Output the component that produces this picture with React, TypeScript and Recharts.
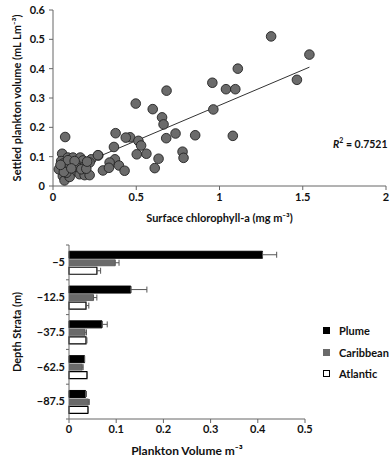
import React from 'react';
import { ScatterChart, Scatter, XAxis, YAxis, BarChart, Bar, ErrorBar, Legend } from 'recharts';

// top panel: surface chlorophyll-a vs settled plankton volume
const chlorophyll = [
  1.31, 1.54, 1.465, 1.11, 0.957, 1.039, 1.095, 0.682, 0.497, 0.599, 0.655, 0.664, 0.963,
  0.376, 0.463, 0.513, 0.529, 0.366, 0.68, 0.736, 0.854, 1.08, 0.503, 0.561, 0.778, 0.784,
  0.634, 0.611, 0.272, 0.372, 0.34, 0.396, 0.43, 0.3, 0.336, 0.437,
  0.073, 0.055, 0.089, 0.12, 0.164, 0.18, 0.23, 0.22, 0.27, 0.049, 0.08, 0.116, 0.15, 0.18,
  0.049, 0.08, 0.12, 0.16, 0.19, 0.22, 0.059, 0.069, 0.1, 0.035, 0.063, 0.1, 0.14, 0.17,
  0.2, 0.08, 0.065, 0.09, 0.13, 0.205, 0.11, 0.045,
];
const settledVolume = [
  0.51, 0.448, 0.362, 0.4, 0.352, 0.33, 0.33, 0.325, 0.281, 0.262, 0.234, 0.21, 0.261,
  0.18, 0.166, 0.154, 0.138, 0.133, 0.163, 0.179, 0.173, 0.171, 0.108, 0.11, 0.117, 0.096,
  0.093, 0.061, 0.104, 0.091, 0.08, 0.07, 0.052, 0.053, 0.062, 0.165,
  0.167, 0.11, 0.097, 0.097, 0.097, 0.087, 0.091, 0.08, 0.105, 0.085, 0.074, 0.074, 0.068, 0.063,
  0.063, 0.058, 0.051, 0.04, 0.037, 0.037, 0.034, 0.019, 0.031, 0.057, 0.077, 0.07, 0.065, 0.057,
  0.059, 0.045, 0.048, 0.088, 0.085, 0.083, 0.06, 0.072,
];
const chlTicks = [0, 0.5, 1, 1.5, 2];
const volumeTicks = [0, 0.1, 0.2, 0.3, 0.4, 0.5, 0.6];
const TREND_SLOPE = 0.241;
const TREND_INTERCEPT = 0.034;
const R_SQUARED = '0.7521';

// bottom panel: plankton volume by depth stratum
const depthStrata = ['\u22125', '\u221212.5', '\u221237.5', '\u221262.5', '\u221287.5'];
const plume = [0.41, 0.131, 0.07, 0.033, 0.035];
const plumeErr = [0.03, 0.034, 0.011, 0, 0.002];
const caribbean = [0.098, 0.052, 0.034, 0.028, 0.041];
const caribbeanErr = [0.008, 0.007, 0.003, 0.002, 0.002];
const atlantic = [0.059, 0.036, 0.036, 0.038, 0.04];
const atlanticErr = [0.008, 0.006, 0.002, 0.001, 0.001];
const planktonTicks = [0, 0.1, 0.2, 0.3, 0.4, 0.5];

const FONT = 'Lato, "Open Sans", sans-serif';
const AXIS = '#666';
const tickStyle = { fontSize: 11, fontWeight: 700, fill: '#111', fontFamily: FONT };
const titleStyle = { fontSize: 11, fontWeight: 700, fill: '#111', fontFamily: FONT };

const points = chlorophyll.map((x, i) => ({ x, y: settledVolume[i] }));
const trendX = [Math.min(...chlorophyll), Math.max(...chlorophyll)];
const trend = trendX.map((x) => ({ x, y: TREND_INTERCEPT + TREND_SLOPE * x }));

const strataData = depthStrata.map((depth, i) => ({
  depth,
  plume: plume[i],
  plumeErr: [0, plumeErr[i]],
  caribbean: caribbean[i],
  caribbeanErr: [0, caribbeanErr[i]],
  atlantic: atlantic[i],
  atlanticErr: [0, atlanticErr[i]],
}));

const legendItems = [
  { name: 'Plume', fill: '#000', stroke: '#000' },
  { name: 'Caribbean', fill: '#6a6a6a', stroke: '#6a6a6a' },
  { name: 'Atlantic', fill: '#fff', stroke: '#000' },
];

const BAR_AXIS_X = 69;

const DepthTick = (props: any) => {
  const { x, y, payload, index, visibleTicksCount } = props;
  const half = payload?.offset || 17.4;
  return (
    <g>
      <text x={x} y={y} dy="0.35em" textAnchor="end" style={tickStyle}>{payload.value}</text>
      <line x1={BAR_AXIS_X - 3} x2={BAR_AXIS_X} y1={y - half} y2={y - half} stroke={AXIS} />
      {index === visibleTicksCount - 1 && (
        <line x1={BAR_AXIS_X - 3} x2={BAR_AXIS_X} y1={y + half} y2={y + half} stroke={AXIS} />
      )}
    </g>
  );
};

const StrataLegend = () => (
  <div style={{ fontFamily: FONT, fontWeight: 700, fontSize: 11, color: '#111', whiteSpace: 'nowrap' }}>
    {legendItems.map((it) => (
      <div key={it.name} style={{ display: 'flex', alignItems: 'center', height: 21.6 }}>
        <span style={{ width: 5, height: 5, background: it.fill, border: `1px solid ${it.stroke}`, marginRight: 9 }} />
        {it.name}
      </div>
    ))}
  </div>
);

const App: React.FC = () => {
  return (
    <div style={{ position: 'absolute', left: 0, top: 0, width: 390, height: 458, background: '#fff', overflow: 'hidden' }}>
      <div style={{ position: 'absolute', left: 0, top: 0 }}>
        <ScatterChart width={390} height={230} margin={{ top: 10, right: 4, left: 0, bottom: 0 }}>
          <XAxis
            type="number"
            dataKey="x"
            domain={[0, 2]}
            ticks={chlTicks}
            height={44}
            stroke={AXIS}
            tickSize={4}
            tickMargin={3}
            tick={tickStyle}
            label={{ value: 'Surface chlorophyll-a (mg  m\u207B\u00B3)', position: 'insideBottom', offset: 8, style: titleStyle }}
          />
          <YAxis
            type="number"
            dataKey="y"
            domain={[0, 0.6]}
            ticks={volumeTicks}
            width={53}
            stroke={AXIS}
            tickSize={4}
            tickMargin={4}
            tick={tickStyle}
            label={{ value: 'Settled plankton volume (mL  Lm\u207B\u00B3)', angle: -90, position: 'insideLeft', offset: 17, style: { ...titleStyle, textAnchor: 'middle' } }}
          />
          <Scatter
            data={trend}
            line={{ stroke: '#333', strokeWidth: 1 }}
            shape={() => <g />}
            legendType="none"
            isAnimationActive={false}
          />
          <Scatter
            data={points}
            shape={(p: any) => <circle cx={p.cx} cy={p.cy} r={4.8} fill="#6b6b6b" stroke="#222" strokeWidth={0.9} />}
            isAnimationActive={false}
          />
        </ScatterChart>
        <div style={{ position: 'absolute', left: 333, top: 136, fontFamily: FONT, fontWeight: 700, fontSize: 10.5, color: '#111', whiteSpace: 'nowrap' }}>
          <i>R</i><sup style={{ fontSize: 7 }}>2</sup> = {R_SQUARED}
        </div>
      </div>

      <div style={{ position: 'absolute', left: 0, top: 232 }}>
        <BarChart
          width={390}
          height={226}
          layout="vertical"
          data={strataData}
          margin={{ top: 13, right: 85, left: 0, bottom: 0 }}
          barCategoryGap="18%"
          barGap={1}
        >
          <XAxis
            type="number"
            domain={[0, 0.5]}
            ticks={planktonTicks}
            height={39}
            stroke={AXIS}
            tickSize={4}
            tickMargin={2}
            tick={tickStyle}
            label={{ value: 'Plankton Volume  m\u207B\u00B3', position: 'insideBottom', offset: 3, style: { ...titleStyle, fontSize: 12 } }}
          />
          <YAxis
            type="category"
            dataKey="depth"
            width={BAR_AXIS_X}
            stroke={AXIS}
            tickLine={false}
            tickSize={0}
            tickMargin={4}
            tick={<DepthTick />}
            label={{ value: 'Depth Strata (m)', angle: -90, position: 'insideLeft', offset: 17, style: { ...titleStyle, textAnchor: 'middle' } }}
          />
          <Bar dataKey="plume" fill="#000" stroke="#000" isAnimationActive={false}>
            <ErrorBar dataKey="plumeErr" direction="x" width={3} stroke="#555" strokeWidth={1} />
          </Bar>
          <Bar dataKey="caribbean" fill="#6a6a6a" isAnimationActive={false}>
            <ErrorBar dataKey="caribbeanErr" direction="x" width={3} stroke="#555" strokeWidth={1} />
          </Bar>
          <Bar dataKey="atlantic" fill="#fff" stroke="#000" strokeWidth={1.2} isAnimationActive={false}>
            <ErrorBar dataKey="atlanticErr" direction="x" width={3} stroke="#555" strokeWidth={1} />
          </Bar>
          <Legend
            layout="vertical"
            align="center"
            verticalAlign="middle"
            content={() => <StrataLegend />}
            wrapperStyle={{ left: 323, top: 88, width: 'auto' }}
          />
        </BarChart>
      </div>
    </div>
  );
};

export default App;
